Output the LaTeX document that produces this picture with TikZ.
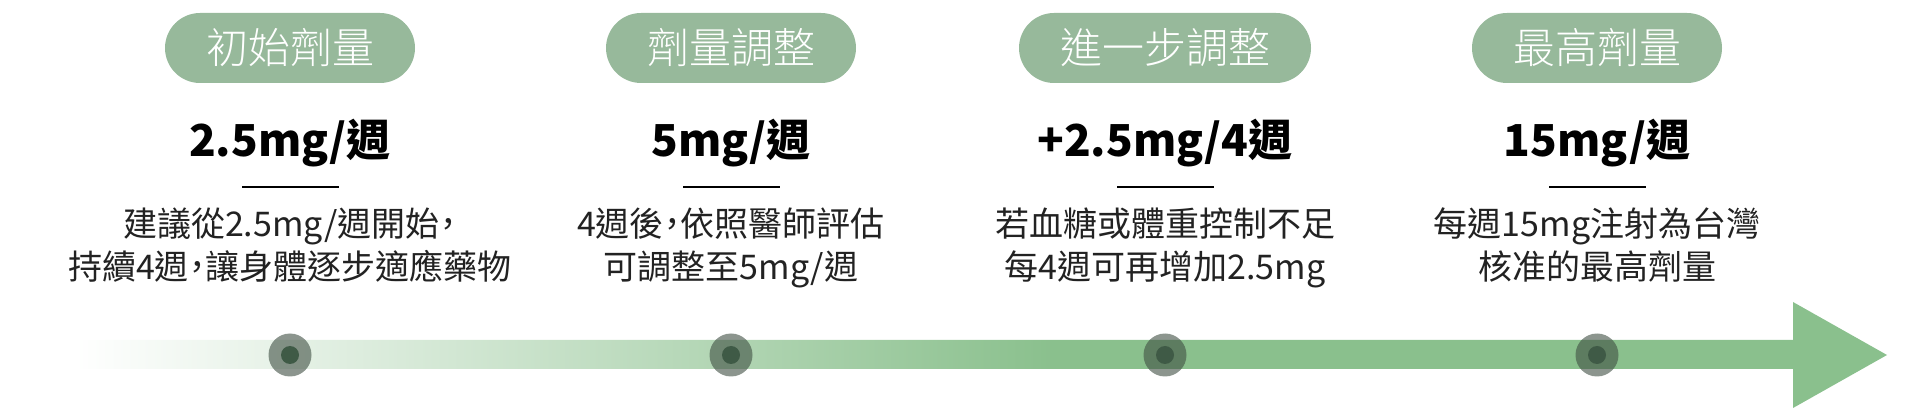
\documentclass[tikz,border=0pt]{standalone}
\usepackage{fontspec}
\setmainfont{Noto Sans CJK TC}
\newfontfamily\lightfont{Noto Sans CJK TC Light}
\newfontfamily\notefont{Noto Sans CJK TC}[RawFeature=+halt]
\usepackage{tikz}

\definecolor{pillgreen}{HTML}{97B99B}
\definecolor{bargreen}{HTML}{8AC08D}
\definecolor{dotgray}{HTML}{3F4F43}
\definecolor{dotdark}{HTML}{3F5A46}
\definecolor{inktext}{HTML}{222222}

\pgfdeclarehorizontalshading{barfade}{100bp}{color(0bp)=(white); color(25bp)=(white);
    color(52bp)=(bargreen); color(100bp)=(bargreen)}

\tikzset{
    stage/.style={fill=pillgreen, text=white, rounded corners=35, minimum height=70, inner xsep=41, inner ysep=0,
        font=\lightfont\fontsize{42}{42}\selectfont},
    dose/.style={anchor=base, text=black, inner sep=0, font=\bfseries\fontsize{44}{44}\selectfont},
    divider/.style={fill=black, minimum width=97, minimum height=2.5, inner sep=0},
    note/.style={anchor=base, align=center, text=inktext, inner sep=0, font=\notefont\fontsize{34}{43}\selectfont},
    dotouter/.style={circle, fill=dotgray, fill opacity=0.6, minimum size=43, inner sep=0},
    dotinner/.style={circle, fill=dotdark, minimum size=18, inner sep=0}
}

\begin{document}
\begin{tikzpicture}[x=1pt, y=-1pt]
        \useasboundingbox (0, 0) rectangle (1920, 419);
        % timeline arrow
        \shade[shading=barfade] (75, 340) -- (1793, 340) -- (1793, 302) -- (1887, 355) -- (1793, 408) -- (1793, 369) -- (75, 369) -- cycle;

        \node[stage] (stage1) at (290, 48) {初始劑量};
        \node[dose] (dose1) at (290, 157) {2.5mg/週};
        \node[divider] (line1) at (290, 187) {};
        \node[note] (note1) at (290, 280) {建議從2.5mg/週開始，\\持續4週，讓身體逐步適應藥物};
        \node[dotouter] (dot1) at (290, 355) {};
        \node[dotinner] at (dot1) {};

        \node[stage] (stage2) at (731, 48) {劑量調整};
        \node[dose] (dose2) at (731, 157) {5mg/週};
        \node[divider] (line2) at (731, 187) {};
        \node[note] (note2) at (731, 280) {4週後，依照醫師評估\\可調整至5mg/週};
        \node[dotouter] (dot2) at (731, 355) {};
        \node[dotinner] at (dot2) {};

        \node[stage] (stage3) at (1165, 48) {進一步調整};
        \node[dose] (dose3) at (1165, 157) {+2.5mg/4週};
        \node[divider] (line3) at (1165, 187) {};
        \node[note] (note3) at (1165, 280) {若血糖或體重控制不足\\每4週可再增加2.5mg};
        \node[dotouter] (dot3) at (1165, 355) {};
        \node[dotinner] at (dot3) {};

        \node[stage] (stage4) at (1597, 48) {最高劑量};
        \node[dose] (dose4) at (1597, 157) {15mg/週};
        \node[divider] (line4) at (1597, 187) {};
        \node[note] (note4) at (1597, 280) {每週15mg注射為台灣\\核准的最高劑量};
        \node[dotouter] (dot4) at (1597, 355) {};
        \node[dotinner] at (dot4) {};
    \end{tikzpicture}
\end{document}
